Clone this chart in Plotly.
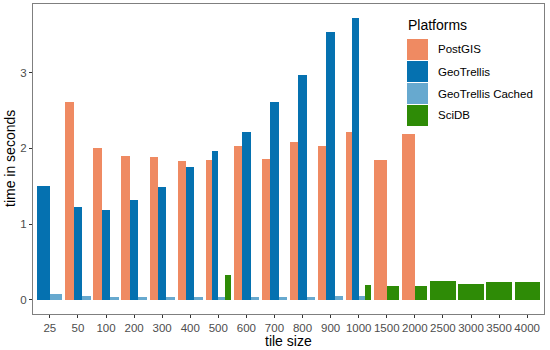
import plotly.graph_objects as go

# ---- data ----
tile_sizes = ["25", "50", "100", "200", "300", "400", "500", "600", "700", "800",
              "900", "1000", "1500", "2000", "2500", "3000", "3500", "4000"]
postgis = [None, 2.61, 2.01, 1.90, 1.88, 1.83, 1.85, 2.03, 1.86, 2.09,
           2.03, 2.21, 1.85, 2.19, None, None, None, None]
geotrellis = [1.50, 1.23, 1.19, 1.32, 1.49, 1.75, 1.97, 2.22, 2.61, 2.97,
              3.54, 3.72, None, None, None, None, None, None]
geotrellis_cached = [0.08, 0.05, 0.04, 0.035, 0.045, 0.045, 0.04, 0.04, 0.04, 0.045,
                     0.05, 0.05, None, None, None, None, None, None]
scidb = [None, None, None, None, None, None, 0.33, None, None, None,
         None, 0.20, 0.19, 0.19, 0.245, 0.21, 0.24, 0.235]

series_names = ["PostGIS", "GeoTrellis", "GeoTrellis Cached", "SciDB"]
series_values = [postgis, geotrellis, geotrellis_cached, scidb]
series_colors = ["#EF8A62", "#0571B0", "#67A9CF", "#2E8B06"]

# ---- dodge (ggplot-like position_dodge, total width 0.9) ----
DODGE = 0.9
n = len(tile_sizes)
xs = {s: [] for s in series_names}
ys = {s: [] for s in series_names}
ws = {s: [] for s in series_names}
offs = {s: [] for s in series_names}
for i in range(n):
    present = [k for k, vals in enumerate(series_values) if vals[i] is not None]
    w = DODGE / len(present)
    for j, k in enumerate(present):
        nm = series_names[k]
        xs[nm].append(i)
        ys[nm].append(series_values[k][i])
        ws[nm].append(w)
        offs[nm].append(-DODGE / 2 + j * w)

fig = go.Figure()
for nm, col in zip(series_names, series_colors):
    fig.add_trace(go.Bar(x=xs[nm], y=ys[nm], width=ws[nm], offset=offs[nm],
                         name=nm, marker=dict(color=col, line=dict(width=0)),
                         showlegend=False))

W, H = 550, 350
L, R, T, B = 33, 6, 4, 36
pw, ph = W - L - R, H - T - B

def px(x):
    return (x - L) / pw

def py(y):
    return (H - B - y) / ph

FONT = "Liberation Sans, Arial, sans-serif"

# ---- custom legend (ggplot style) ----
shapes = []
annotations = [dict(x=px(406), y=py(25), xref="paper", yref="paper", text="Platforms",
                    showarrow=False, xanchor="left", yanchor="middle",
                    font=dict(family=FONT, size=14, color="black"))]
key_top = 39
key_h = 22
for k, (nm, col) in enumerate(zip(series_names, series_colors)):
    y0 = key_top + k * key_h
    shapes.append(dict(type="rect", xref="paper", yref="paper",
                       x0=px(407), x1=px(428), y0=py(y0 + key_h - 1), y1=py(y0),
                       fillcolor=col, line=dict(width=0)))
    annotations.append(dict(x=px(436), y=py(y0 + (key_h - 1) / 2), xref="paper", yref="paper",
                            text=nm, showarrow=False, xanchor="left", yanchor="middle",
                            font=dict(family=FONT, size=11.5, color="black")))

# axis titles
annotations.append(dict(x=px(L + pw / 2), y=py(341), xref="paper", yref="paper",
                        text="tile size", showarrow=False, xanchor="center", yanchor="middle",
                        font=dict(family=FONT, size=14, color="black")))
annotations.append(dict(x=px(10), y=py(T + ph / 2), xref="paper", yref="paper",
                        text="time in seconds", showarrow=False, textangle=-90,
                        xanchor="center", yanchor="middle",
                        font=dict(family=FONT, size=14, color="black")))

fig.update_layout(
    width=W, height=H,
    margin=dict(l=L, r=R, t=T, b=B, autoexpand=False),
    paper_bgcolor="white", plot_bgcolor="white",
    barmode="overlay", bargap=0,
    shapes=shapes, annotations=annotations,
    font=dict(family=FONT),
)
fig.update_xaxes(
    range=[-0.6, n - 1 + 0.6], tickmode="array", tickvals=list(range(n)), ticktext=tile_sizes,
    showgrid=False, zeroline=False, showline=True, linecolor="#7F7F7F", linewidth=1, mirror=True,
    ticks="outside", ticklen=3, tickcolor="#333333", tickwidth=1, automargin=False,
    tickfont=dict(family=FONT, size=11.5, color="#4D4D4D"),
)
fig.update_yaxes(
    range=[-0.186, 3.906], tickmode="array", tickvals=[0, 1, 2, 3], ticktext=["0", "1", "2", "3"],
    showgrid=False, zeroline=False, showline=True, linecolor="#7F7F7F", linewidth=1, mirror=True,
    ticks="outside", ticklen=3, tickcolor="#333333", tickwidth=1, automargin=False,
    tickfont=dict(family=FONT, size=11.5, color="#4D4D4D"),
)

fig.write_html("out.html", config={"displayModeBar": False},
               post_script="document.body.style.margin='0';")
